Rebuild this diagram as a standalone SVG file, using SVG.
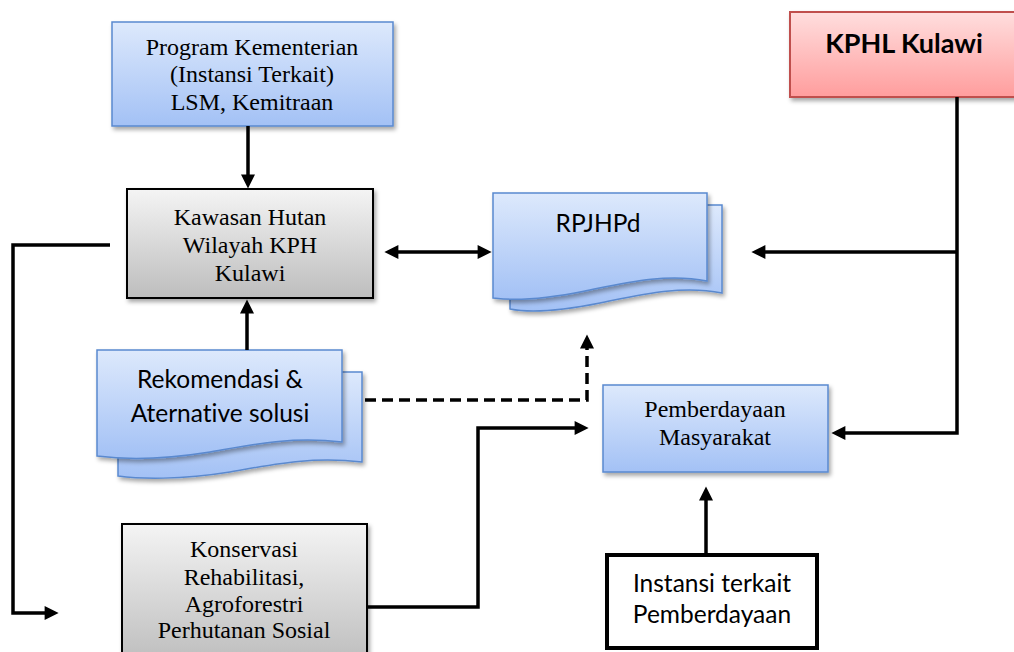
<svg xmlns="http://www.w3.org/2000/svg" width="1014" height="652" viewBox="0 0 1014 652">
<defs>
<linearGradient id="gBlue" x1="0" y1="0" x2="0" y2="1">
<stop offset="0" stop-color="#dde9fc"/><stop offset="1" stop-color="#a3c1f5"/>
</linearGradient>
<linearGradient id="gGray" x1="0" y1="0" x2="0" y2="1">
<stop offset="0" stop-color="#f4f4f4"/><stop offset="1" stop-color="#bdbdbd"/>
</linearGradient>
<linearGradient id="gPink" x1="0" y1="0" x2="0" y2="1">
<stop offset="0" stop-color="#ffdede"/><stop offset="1" stop-color="#ff9d9d"/>
</linearGradient>
<filter id="sh" x="-10%" y="-10%" width="130%" height="140%">
<feDropShadow dx="2" dy="3" stdDeviation="2" flood-color="#000" flood-opacity="0.35"/>
</filter>
<marker id="ah" viewBox="0 0 10 10" refX="1" refY="5" markerWidth="15" markerHeight="14" markerUnits="userSpaceOnUse" orient="auto-start-reverse">
<path d="M0,0 L10,5 L0,10 z" fill="#000"/>
</marker>
</defs>
<style>
.blue{fill:url(#gBlue);stroke:#5a89cf;stroke-width:1.5;filter:url(#sh)}
.gray{fill:url(#gGray);stroke:#000;stroke-width:2;filter:url(#sh)}
.pink{fill:url(#gPink);stroke:#c0504d;stroke-width:2;filter:url(#sh)}
.ser{font-family:"Liberation Serif","Times New Roman",serif;font-size:24px;fill:#000;text-anchor:middle}
.san{font-family:Lato,"Noto Sans",sans-serif;font-size:24.5px;fill:#000;text-anchor:middle;font-variant-ligatures:none}
.ln{fill:none;stroke:#000;stroke-width:3.5}
</style>

<g id="program">
<rect class="blue" x="112" y="22" width="281" height="104"/>
<text class="ser" x="252" y="55">Program Kementerian</text>
<text class="ser" x="252" y="82">(Instansi Terkait)</text>
<text class="ser" x="252" y="110">LSM, Kemitraan</text>
</g>

<g id="kphl">
<rect class="pink" x="790" y="12" width="240" height="85"/>
<text class="san" x="904" y="53" style="font-size:27px;font-weight:bold">KPHL Kulawi</text>
</g>

<g id="kawasan">
<rect class="gray" x="127" y="189" width="246" height="109"/>
<text class="ser" x="250" y="225">Kawasan Hutan</text>
<text class="ser" x="250" y="253">Wilayah KPH</text>
<text class="ser" x="250" y="281">Kulawi</text>
</g>

<g id="rpjhpd">
<path class="blue" d="M510,205 H722 V293 C680,285 640,295 600,303 C560,311 530,313 510,309 Z"/>
<path class="blue" d="M493,193 H707 V281 C665,273 625,283 585,291 C545,299 515,301 493,298 Z"/>
<text class="san" x="598" y="232">RPJHPd</text>
</g>

<g id="rekomendasi">
<path class="blue" d="M118,372 H362 V462 C310,456 270,465 230,472 C180,480 140,479 118,476 Z"/>
<path class="blue" d="M97,350 H342 V442 C290,436 250,445 210,452 C160,460 120,459 97,456 Z"/>
<text class="san" x="220" y="388">Rekomendasi &amp;</text>
<text class="san" x="220" y="422">Aternative solusi</text>
</g>

<g id="pemberdayaan">
<rect class="blue" x="603" y="385" width="225" height="87"/>
<text class="ser" x="715" y="417">Pemberdayaan</text>
<text class="ser" x="715" y="445">Masyarakat</text>
</g>

<g id="konservasi">
<rect class="gray" x="122" y="524" width="245" height="140"/>
<text class="ser" x="244" y="557">Konservasi</text>
<text class="ser" x="244" y="585">Rehabilitasi,</text>
<text class="ser" x="244" y="612">Agroforestri</text>
<text class="ser" x="244" y="638">Perhutanan Sosial</text>
</g>

<g id="instansi">
<rect x="607" y="555" width="210" height="93" fill="#fff" stroke="#000" stroke-width="4"/>
<text class="san" x="712" y="592">Instansi terkait</text>
<text class="san" x="712" y="623">Pemberdayaan</text>
</g>

<g id="connectors">
<path class="ln" d="M248,126 V176" marker-end="url(#ah)"/>
<path class="ln" d="M397,252 H479" marker-start="url(#ah)" marker-end="url(#ah)"/>
<path class="ln" d="M247,350 V312" marker-end="url(#ah)"/>
<path class="ln" d="M110,245 H13 V613 H46" marker-end="url(#ah)"/>
<path class="ln" d="M365,400 H587 V347" stroke-dasharray="11,6" marker-end="url(#ah)"/>
<path class="ln" d="M367,607 H478 V428 H576" marker-end="url(#ah)"/>
<path class="ln" d="M706,555 V499" marker-end="url(#ah)"/>
<path class="ln" d="M957,97 V433 H844" marker-end="url(#ah)"/>
<path class="ln" d="M957,252 H764" marker-end="url(#ah)"/>
</g>
</svg>
